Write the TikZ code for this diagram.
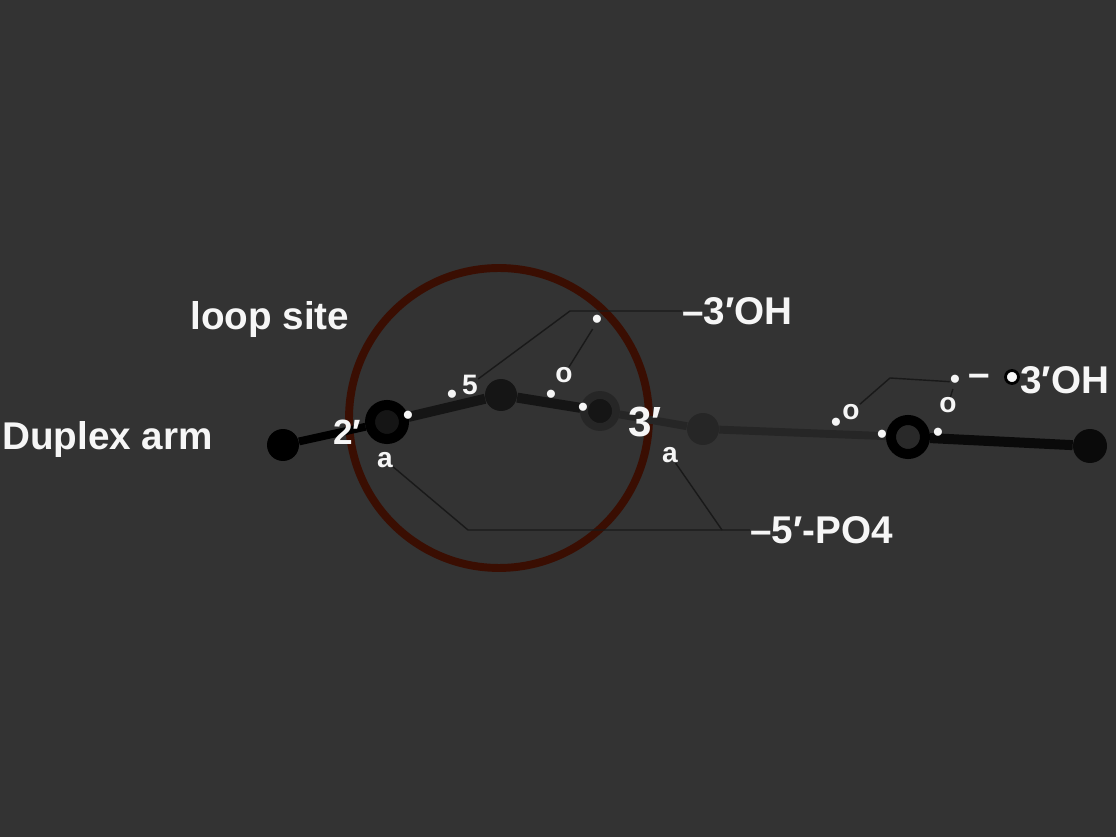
\documentclass[tikz,border=0pt]{standalone}
\usepackage{fontspec}
\setsansfont{Liberation Sans}
\definecolor{bg}{HTML}{333333}
\definecolor{rim}{RGB}{58,14,2}
\definecolor{core}{HTML}{151515}
\definecolor{dim}{HTML}{262626}
\definecolor{snow}{HTML}{F6F6F6}
\tikzset{
	big/.style={text=snow,font=\sffamily\bfseries\fontsize{22}{24}\selectfont,inner sep=0pt,anchor=west},
	tag/.style={text=snow,font=\sffamily\bfseries\fontsize{16}{18}\selectfont,inner sep=0pt},
	dot/.style={text=snow,font=\sffamily\bfseries\fontsize{16}{18}\selectfont,inner sep=0pt},
	lead/.style={draw=black!90,line width=0.8pt},
	bead/.style={circle,inner sep=0pt,minimum size=#1},
}
\begin{document}
\begin{tikzpicture}[x=0.02cm,y=-0.02cm]
		\fill[bg] (0,0) rectangle (1116,837);
		\draw[rim,line width=4.5pt] (499,418) circle (3cm);
		% beads along the strand
		\path
		(283,445) node[bead=0.64cm,fill=black] (a) {}
		(387,422) node[bead=0.68cm,fill=core,draw=black,line width=5.7pt] (b) {}
		(501,395) node[bead=0.64cm,fill=core] (c) {}
		(600,411) node[bead=0.64cm,fill=core,draw=dim,line width=4.5pt] (d) {}
		(703,429) node[bead=0.64cm,fill=dim] (e) {}
		(908,437) node[bead=0.68cm,fill=black!84,draw=black,line width=5.7pt] (f) {}
		(1090,446) node[bead=0.68cm,fill=black!96] (g) {};
		\draw[black,line width=4.5pt] (a)--(b);
		\draw[core,line width=5.7pt] (b)--(c)--(d);
		\draw[dim,line width=4.5pt] (d)--(e)--(f);
		\draw[black!96,line width=5.7pt] (f)--(g);
		% labels
		\node[big] (arm) at (2,440) {Duplex arm};
		\node[big] (gap) at (190,320) {loop site};
		\node[big] (top) at (682,311) {–3′OH};
		\node[big] (bot) at (750,530) {–5′-PO4};
		\node[big] (dash) at (968,380) {–};
		\node[bead=0.26cm,fill=snow,draw=black,line width=1.6pt] (ring) at (1012,377) {};
		\node[big] (tail) at (1020,380) {3′OH};
		\foreach \n/\x/\y in {t1/452/397,t3/408/418,t6/551/397,t8/597/322,t9/583/410,t12/836/425,t14/882/437,t15/938/435,t17/955/382}
			\node[dot] (\n) at (\x,\y) {•};
		\node[tag] (t2) at (470,385) {5};
		\node[tag] (t4) at (385,460) {a};
		\node[tag,font=\sffamily\bfseries\fontsize{20}{22}\selectfont] (t5) at (347,432) {2′};
		\node[tag] (t7) at (564,375) {o};
		\node[tag,font=\sffamily\bfseries\fontsize{24}{26}\selectfont] (t10) at (645,422) {3′};
		\node[tag] (t11) at (670,455) {a};
		\node[tag] (t13) at (851,412) {o};
		\node[tag] (t16) at (948,405) {o};
		% leaders
		\path
		(570,311) coordinate (k1)
		(468,530) coordinate (k2)
		(722,530) coordinate (k3)
		(890,378) coordinate (k4);
		\draw[lead] (t2)--(k1)--(top.west);
		\draw[lead] (t8)--(t7);
		\draw[lead] (t4)--(k2)--(bot.west);
		\draw[lead] (t11)--(k3);
		\draw[lead] (t13)--(k4)--(t17);
		\draw[lead] (t17)--(t16);
\end{tikzpicture}
\end{document}
